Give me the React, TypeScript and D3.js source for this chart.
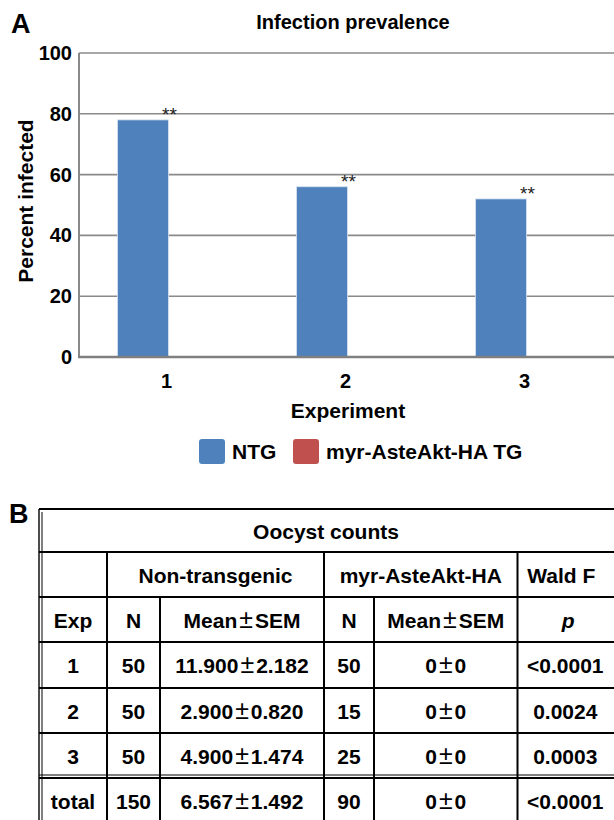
import React from 'react';
import * as d3 from 'd3';

// Panel A data
const experiments = ['1', '2', '3'];
const seriesNames = ['NTG', 'myr-AsteAkt-HA TG'];
const ntgPercent = [78, 56, 52];
const tgPercent = [0, 0, 0];
const significance = ['**', '**', '**'];
const yTicks = [0, 20, 40, 60, 80, 100];
const seriesColors = ['#4F81BD', '#C0504D'];

// Panel B data
const tableTitle = 'Oocyst counts';
const groupHeaders = ['', 'Non-transgenic', 'myr-AsteAkt-HA', 'Wald F'];
const columnHeaders = ['Exp', 'N', 'Mean±SEM', 'N', 'Mean±SEM', 'p'];
const expLabels = ['1', '2', '3', 'total'];
const ntgN = ['50', '50', '50', '150'];
const ntgMeanSem = ['11.900±2.182', '2.900±0.820', '4.900±1.474', '6.567±1.492'];
const tgN = ['50', '15', '25', '90'];
const tgMeanSem = ['0±0', '0±0', '0±0', '0±0'];
const pValues = ['<0.0001', '0.0024', '0.0003', '<0.0001'];

const FONT = '"Liberation Sans", Arial, sans-serif';

// renders a string, giving the ± sign a bigger, wider glyph like the original
const PlusMinus: React.FC<{ text: string; x: number; y: number }> = ({ text, x, y }) => {
  const parts = text.split('±');
  if (parts.length === 1) {
    return <text x={x} y={y} textAnchor="middle">{text}</text>;
  }
  return (
    <text x={x} y={y} textAnchor="middle">
      {parts[0]}
      <tspan dx={2} fontSize={25} fontWeight="normal">±</tspan>
      <tspan dx={2}>{parts[1]}</tspan>
    </text>
  );
};

const App: React.FC = () => {
  const width = 614;
  const height = 820;

  // chart geometry
  const plotLeft = 79;
  const plotRight = 616;
  const yScale = d3.scaleLinear().domain([0, 100]).range([357, 53]);
  const x0 = d3.scaleBand().domain(experiments).range([plotLeft, plotRight]).padding(0);
  const x1 = d3
    .scaleBand()
    .domain(seriesNames)
    .range([0, x0.bandwidth()])
    .paddingInner(0)
    .paddingOuter(0.755);

  const values = [ntgPercent, tgPercent];

  // table geometry
  const colEdges = [39, 107, 160, 324, 374, 517.5, 613];
  const rowEdges = [509, 552, 597, 642, 688, 733, 778, 823];
  const colCenter = (i: number) => (colEdges[i] + colEdges[i + 1]) / 2;
  const rowBase = (i: number) => (rowEdges[i] + rowEdges[i + 1]) / 2 + 8;
  const bodyRows = expLabels.map((e, i) => [e, ntgN[i], ntgMeanSem[i], tgN[i], tgMeanSem[i], pValues[i]]);

  return (
    <svg
      width={width}
      height={height}
      style={{ position: 'absolute', left: 0, top: 0, background: '#fff' }}
      fontFamily={FONT}
    >
      {/* Panel A */}
      <text x={11} y={33} fontSize={27} fontWeight="bold">A</text>
      <text x={353} y={29} fontSize={20} fontWeight="bold" textAnchor="middle">
        Infection prevalence
      </text>

      {/* gridlines */}
      {yTicks.filter(t => t > 0).map(t => (
        <line key={t} x1={plotLeft} x2={width} y1={yScale(t)} y2={yScale(t)} stroke="#8a8a8a" strokeWidth={1.6} />
      ))}
      {/* y tick labels */}
      {yTicks.map(t => (
        <text key={t} x={72} y={yScale(t) + 7} fontSize={20} fontWeight="bold" textAnchor="end">
          {t}
        </text>
      ))}

      {/* bars */}
      {experiments.map((exp, i) => (
        <g key={exp} transform={`translate(${x0(exp)},0)`}>
          {seriesNames.map((s, k) => (
            <rect
              key={s}
              x={x1(s)}
              width={x1.bandwidth()}
              y={yScale(values[k][i])}
              height={yScale(0) - yScale(values[k][i])}
              fill={seriesColors[k]}
              stroke="#d6e2f0"
              strokeWidth={values[k][i] > 0 ? 0.8 : 0}
            />
          ))}
          <text
            x={x0.bandwidth() / 2 + 1}
            y={yScale(ntgPercent[i]) + 1}
            fontSize={19}
            textAnchor="middle"
            fill="#222"
          >
            {significance[i]}
          </text>
        </g>
      ))}

      {/* axes */}
      <line x1={plotLeft} x2={plotLeft} y1={yScale(100)} y2={yScale(0)} stroke="#8a8a8a" strokeWidth={2} />
      <line x1={plotLeft - 1} x2={width} y1={yScale(0)} y2={yScale(0)} stroke="#7f7f7f" strokeWidth={2.6} />

      {experiments.map(exp => (
        <text key={exp} x={(x0(exp) as number) + x0.bandwidth() / 2 - 2} y={388} fontSize={20} fontWeight="bold" textAnchor="middle">
          {exp}
        </text>
      ))}
      <text x={348} y={418} fontSize={21} fontWeight="bold" textAnchor="middle">Experiment</text>
      <text
        transform="rotate(-90)"
        x={-201}
        y={33}
        fontSize={21}
        fontWeight="bold"
        textAnchor="middle"
      >
        Percent infected
      </text>

      {/* legend */}
      {seriesNames.map((s, k) => {
        const lx = [199, 293][k];
        return (
          <g key={s}>
            <rect x={lx} y={439} width={26} height={25} rx={3} fill={seriesColors[k]} />
            <text x={lx + 33} y={459} fontSize={21} fontWeight="bold">{s}</text>
          </g>
        );
      })}

      {/* Panel B */}
      <text x={9} y={523} fontSize={27} fontWeight="bold">B</text>

      <g fontSize={21} fontWeight="bold">
        {/* horizontal rules */}
        {rowEdges.map(y => (
          <line key={y} x1={colEdges[0]} x2={width} y1={y} y2={y} stroke="#000" strokeWidth={2} />
        ))}
        <line x1={colEdges[0]} x2={width} y1={rowEdges[6] - 3} y2={rowEdges[6] - 3} stroke="#000" strokeWidth={1} />
        {/* outer left double border */}
        <line x1={colEdges[0]} x2={colEdges[0]} y1={rowEdges[0]} y2={height} stroke="#000" strokeWidth={1.4} />
        <line x1={colEdges[0] + 3} x2={colEdges[0] + 3} y1={rowEdges[0] + 3} y2={height} stroke="#000" strokeWidth={1} />
        {/* column rules */}
        {[1, 3, 5].map(c => (
          <line key={c} x1={colEdges[c]} x2={colEdges[c]} y1={rowEdges[1]} y2={height} stroke="#000" strokeWidth={2} />
        ))}
        {[2, 4].map(c => (
          <line key={c} x1={colEdges[c]} x2={colEdges[c]} y1={rowEdges[2]} y2={height} stroke="#000" strokeWidth={2} />
        ))}

        <text x={326} y={rowBase(0)} textAnchor="middle">{tableTitle}</text>
        <text x={(colEdges[1] + colEdges[3]) / 2} y={rowBase(1)} textAnchor="middle">{groupHeaders[1]}</text>
        <text x={(colEdges[3] + colEdges[5]) / 2} y={rowBase(1)} textAnchor="middle">{groupHeaders[2]}</text>
        <text x={colCenter(5) - 4} y={rowBase(1)} textAnchor="middle">{groupHeaders[3]}</text>

        {columnHeaders.map((h, c) =>
          h === 'p' ? (
            <text key={c} x={colCenter(c) + 3} y={rowBase(2)} textAnchor="middle" fontStyle="italic">{h}</text>
          ) : (
            <PlusMinus key={c} text={h} x={colCenter(c)} y={rowBase(2)} />
          )
        )}

        {bodyRows.map((row, r) =>
          row.map((cell, c) => (
            <PlusMinus key={`${r}-${c}`} text={cell} x={colCenter(c)} y={rowBase(3 + r)} />
          ))
        )}
      </g>
    </svg>
  );
};

export default App;
